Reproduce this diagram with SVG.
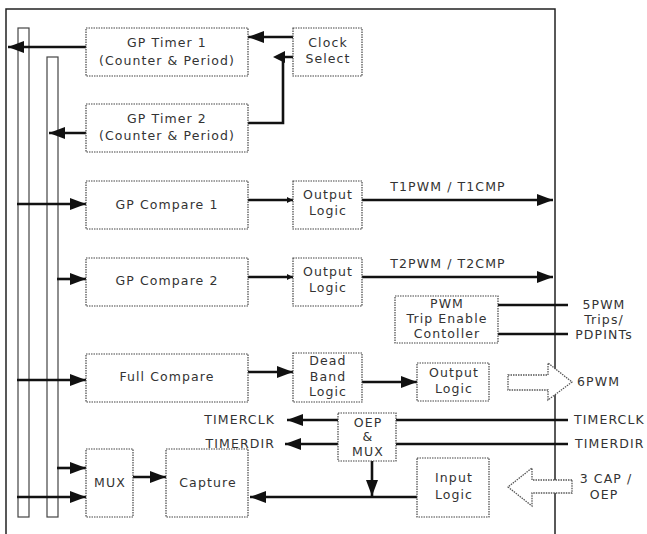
<svg xmlns="http://www.w3.org/2000/svg" width="647" height="534" viewBox="0 0 647 534">
<style>
.box{fill:#fff;stroke:#444;stroke-width:1.2;stroke-dasharray:1.5,1}
.bar{fill:#fff;stroke:#444;stroke-width:1.2}
.t{font-family:"DejaVu Sans",sans-serif;font-size:12.5px;letter-spacing:1.1px;fill:#333;text-anchor:middle}
.tl{font-family:"DejaVu Sans",sans-serif;font-size:12.5px;letter-spacing:1.1px;fill:#333}
.w{fill:none;stroke:#111;stroke-width:2.6}
.hollow{fill:#fff;stroke:#555;stroke-width:1.3;stroke-dasharray:1.5,1}
</style>
<defs>
<marker id="ah" markerUnits="userSpaceOnUse" markerWidth="16" markerHeight="12" refX="16" refY="6" orient="auto">
<path d="M0,0 L16,6 L0,12 z" fill="#111"/>
</marker>
<marker id="as" markerUnits="userSpaceOnUse" markerWidth="6" markerHeight="6" refX="6" refY="3" orient="auto">
<path d="M0,0 L6,3 L0,6 z" fill="#111"/>
</marker>
</defs>
<rect width="647" height="534" fill="#fff"/>
<rect x="6" y="9" width="549" height="535" fill="none" stroke="#222" stroke-width="1.5"/>
<g id="bus1"><rect class="bar" x="18" y="28" width="11" height="489"/></g>
<g id="bus2"><rect class="bar" x="47" y="57" width="11" height="460"/></g>
<g id="connectors">
<line class="w" x1="293" y1="37" x2="248" y2="37" marker-end="url(#ah)"/>
<line class="w" x1="86" y1="47" x2="8" y2="47" marker-end="url(#ah)"/>
<polyline class="w" points="248,123 283,123 283,57 293,57"/>
<path d="M285,51 L273,57 L285,63 z" fill="#111"/>
<line class="w" x1="86" y1="133" x2="49" y2="133" marker-end="url(#ah)"/>
<line class="w" x1="17" y1="204" x2="86" y2="204" marker-end="url(#ah)"/>
<line class="w" x1="248" y1="200" x2="293" y2="200" marker-end="url(#as)"/>
<line class="w" x1="362" y1="200" x2="553" y2="200" marker-end="url(#ah)"/>
<line class="w" x1="57" y1="279" x2="86" y2="279" marker-end="url(#ah)"/>
<line class="w" x1="248" y1="277" x2="293" y2="277" marker-end="url(#as)"/>
<line class="w" x1="362" y1="277" x2="553" y2="277" marker-end="url(#ah)"/>
<line class="w" x1="498" y1="305" x2="568" y2="305"/>
<line class="w" x1="498" y1="334" x2="568" y2="334"/>
<line class="w" x1="17" y1="380" x2="86" y2="380" marker-end="url(#ah)"/>
<line class="w" x1="248" y1="372" x2="293" y2="372" marker-end="url(#ah)"/>
<line class="w" x1="362" y1="382" x2="417" y2="382" marker-end="url(#ah)"/>
<line class="w" x1="568" y1="420" x2="396" y2="420"/>
<line class="w" x1="338" y1="420" x2="287" y2="420" marker-end="url(#ah)"/>
<line class="w" x1="568" y1="444" x2="396" y2="444"/>
<line class="w" x1="338" y1="444" x2="285" y2="444" marker-end="url(#ah)"/>
<line class="w" x1="372" y1="461" x2="372" y2="496" marker-end="url(#ah)"/>
<line class="w" x1="417" y1="497" x2="250" y2="497" marker-end="url(#ah)"/>
<line class="w" x1="57" y1="468" x2="86" y2="468" marker-end="url(#ah)"/>
<line class="w" x1="17" y1="497" x2="86" y2="497" marker-end="url(#ah)"/>
<line class="w" x1="133" y1="477" x2="166" y2="477" marker-end="url(#ah)"/>
<polygon class="hollow" points="508,375 548,375 548,363 572,382 548,400 548,390 508,390"/>
<polygon class="hollow" points="572,480 532,480 532,468 508,487 532,506 532,493 572,493"/>
</g>
<g id="gp-timer-1"><rect class="box" x="86" y="28" width="162" height="48"/><text class="t" x="167" y="47">GP Timer 1</text><text class="t" x="167" y="65">(Counter &amp; Period)</text></g>
<g id="clock-select"><rect class="box" x="293" y="28" width="69" height="48"/><text class="t" x="328" y="47">Clock</text><text class="t" x="328" y="63">Select</text></g>
<g id="gp-timer-2"><rect class="box" x="86" y="104" width="162" height="48"/><text class="t" x="167" y="123">GP Timer 2</text><text class="t" x="167" y="140">(Counter &amp; Period)</text></g>
<g id="gp-compare-1"><rect class="box" x="86" y="181" width="162" height="48"/><text class="t" x="167" y="209">GP Compare 1</text></g>
<g id="output-logic-1"><rect class="box" x="293" y="181" width="69" height="48"/><text class="t" x="328" y="199">Output</text><text class="t" x="328" y="215">Logic</text></g>
<g id="gp-compare-2"><rect class="box" x="86" y="258" width="162" height="48"/><text class="t" x="167" y="285">GP Compare 2</text></g>
<g id="output-logic-2"><rect class="box" x="293" y="258" width="69" height="48"/><text class="t" x="328" y="276">Output</text><text class="t" x="328" y="292">Logic</text></g>
<g id="pwm-trip"><rect class="box" x="395" y="296" width="103" height="47"/><text class="t" x="447" y="308">PWM</text><text class="t" x="447" y="323">Trip Enable</text><text class="t" x="447" y="338">Contoller</text></g>
<g id="full-compare"><rect class="box" x="86" y="354" width="162" height="48"/><text class="t" x="167" y="381">Full Compare</text></g>
<g id="dead-band"><rect class="box" x="293" y="353" width="69" height="49"/><text class="t" x="328" y="365">Dead</text><text class="t" x="328" y="381">Band</text><text class="t" x="328" y="396">Logic</text></g>
<g id="output-logic-3"><rect class="box" x="417" y="363" width="72" height="38"/><text class="t" x="454" y="377">Output</text><text class="t" x="454" y="393">Logic</text></g>
<g id="oep-mux"><rect class="box" x="338" y="413" width="58" height="48"/><text class="t" x="368" y="427">OEP</text><text class="t" x="368" y="441">&amp;</text><text class="t" x="368" y="456">MUX</text></g>
<g id="input-logic"><rect class="box" x="417" y="458" width="72" height="59"/><text class="t" x="454" y="482">Input</text><text class="t" x="454" y="499">Logic</text></g>
<g id="mux"><rect class="box" x="86" y="449" width="47" height="68"/><text class="t" x="110" y="487">MUX</text></g>
<g id="capture"><rect class="box" x="166" y="449" width="82" height="68"/><text class="t" x="208" y="487">Capture</text></g>
<g id="labels">
<text class="t" x="448" y="191">T1PWM / T1CMP</text>
<text class="t" x="448" y="268">T2PWM / T2CMP</text>
<text class="t" x="604" y="309">5PWM</text>
<text class="t" x="604" y="324">Trips/</text>
<text class="t" x="604" y="339">PDPINTs</text>
<text class="tl" x="577" y="386">6PWM</text>
<text class="tl" x="275" y="424" text-anchor="end">TIMERCLK</text>
<text class="tl" x="275" y="448" text-anchor="end">TIMERDIR</text>
<text class="tl" x="574" y="424">TIMERCLK</text>
<text class="tl" x="575" y="448">TIMERDIR</text>
<text class="t" x="606" y="483">3 CAP /</text>
<text class="t" x="604" y="499">OEP</text>
</g>
</svg>
